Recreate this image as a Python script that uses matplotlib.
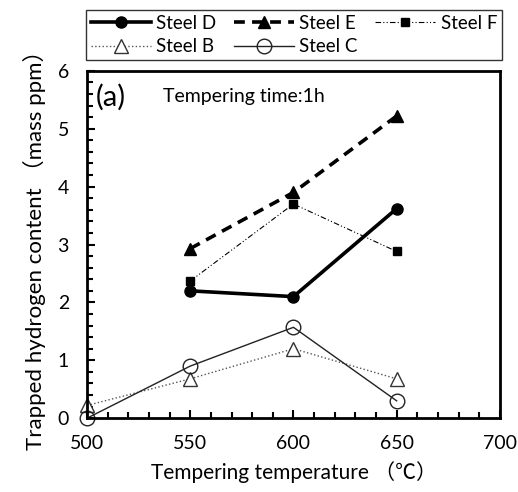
# trapped hydrogen content vs tempering temperature

import matplotlib
matplotlib.use("Agg")
import matplotlib.pyplot as plt
from matplotlib.ticker import MultipleLocator

plt.rcParams['font.family'] = ['Lato', 'Noto Sans CJK SC', 'DejaVu Sans']

temps_def = [550, 600, 650]
steel_d = [2.2, 2.1, 3.62]
steel_e = [2.93, 3.9, 5.22]
steel_f = [2.37, 3.7, 2.88]

temps_bc = [500, 550, 600, 650]
steel_b = [0.22, 0.68, 1.2, 0.68]
steel_c = [0.0, 0.9, 1.57, 0.3]

fig = plt.figure(figsize=(5.18, 4.92), dpi=100)
ax = fig.add_axes([0.168, 0.150, 0.797, 0.706])

hd, = ax.plot(temps_def, steel_d, "-", color="black", lw=2.6, marker="o", ms=8, label="Steel D")
he, = ax.plot(temps_def, steel_e, "--", color="black", lw=2.6, dashes=(3, 2), marker="^", ms=9, label="Steel E")
hf, = ax.plot(temps_def, steel_f, color="black", lw=0.8, dashes=(5, 2, 1, 2, 1, 2), marker="s", ms=6, label="Steel F")
hb, = ax.plot(temps_bc, steel_b, ":", color="#555555", lw=1.0, marker="^", ms=10.5,
              mfc="white", mec="#333333", mew=1.0, label="Steel B")
hc, = ax.plot(temps_bc, steel_c, "-", color="#222222", lw=1.0, marker="o", ms=10.5,
              mfc="none", mec="#222222", mew=1.0, label="Steel C")
hb.set_clip_on(False)
hc.set_clip_on(False)

ax.set_xlim(500, 700)
ax.set_ylim(0, 6)
ax.xaxis.set_major_locator(MultipleLocator(50))
ax.xaxis.set_minor_locator(MultipleLocator(10))
ax.yaxis.set_major_locator(MultipleLocator(1))
ax.yaxis.set_minor_locator(MultipleLocator(0.2))
ax.tick_params(which="both", direction="in", width=1.5, labelsize=14)
ax.tick_params(axis="x", pad=12)
ax.tick_params(axis="y", pad=13)
ax.tick_params(which="major", length=6)
ax.tick_params(which="minor", length=4)
for s in ax.spines.values():
    s.set_linewidth(2)

ax.set_xlabel("Tempering temperature （℃）", fontsize=15, labelpad=7)
ax.set_ylabel("Trapped hydrogen content （mass ppm）", fontsize=16, labelpad=8)

ax.text(0.022, 0.925, "(a)", transform=ax.transAxes, fontsize=21, va="center")
ax.text(0.185, 0.925, "Tempering time:1h", transform=ax.transAxes, fontsize=14, va="center")

fig.legend(handles=[hd, hb, he, hc, hf], ncol=3, loc="upper left", mode="expand",
           bbox_to_anchor=(86 / 518, 1 - 64 / 492, 416 / 518, 54 / 492), frameon=True, fancybox=False,
           edgecolor="black", fontsize=13.5, handlelength=3.2, columnspacing=1.0,
           borderpad=0.25, labelspacing=0.35, handletextpad=0.3, borderaxespad=0)

plt.savefig("out.png", dpi=100)
